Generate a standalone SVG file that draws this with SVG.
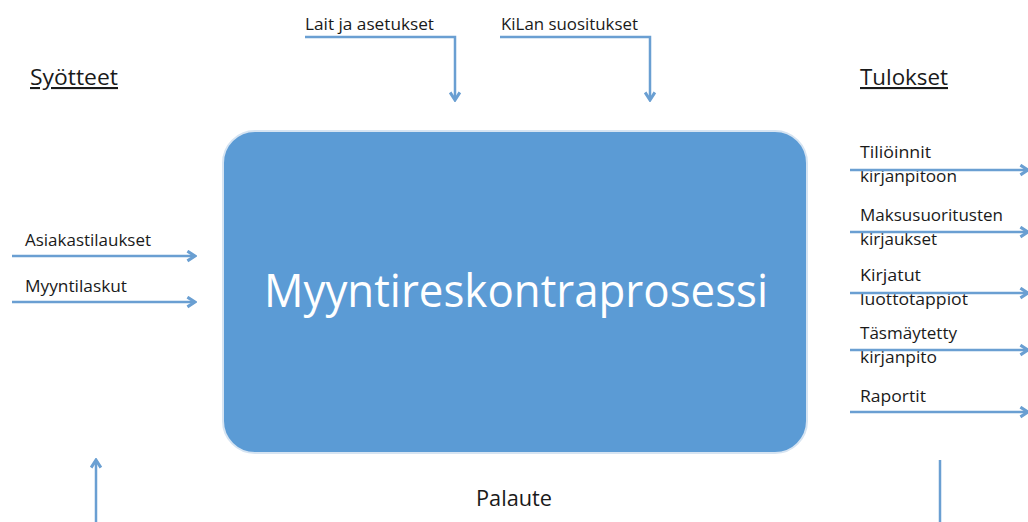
<svg xmlns="http://www.w3.org/2000/svg" width="1028" height="522" viewBox="0 0 1028 522">
  <style>
    .lbl { font-family: "Open Sans", "Liberation Sans", sans-serif; font-size: 16px; fill: #1a1a1a; }
    .out { font-size: 17px; }
    .head { font-family: "Open Sans", "Liberation Sans", sans-serif; font-size: 21px; fill: #1a1a1a; text-decoration: underline; }
    .title { font-family: "Open Sans", "Liberation Sans", sans-serif; font-size: 46px; fill: #ffffff; }
    .flow { fill: none; stroke: #6a9fd2; stroke-width: 2.5; }
  </style>
  <defs>
    <marker id="arrow" viewBox="0 0 12 12" refX="10" refY="6" markerWidth="13" markerHeight="13" markerUnits="userSpaceOnUse" orient="auto">
      <polyline points="3,1.5 10,6 3,10.5" fill="none" stroke="#6a9fd2" stroke-width="2.8"/>
    </marker>
  </defs>

  <rect width="1028" height="522" fill="#ffffff"/>

  <!-- central process -->
  <g id="process">
    <rect x="223" y="131" width="584" height="322" rx="32" ry="32" fill="#5b9bd5" stroke="#d6e4f2" stroke-width="2"/>
    <text class="title" x="264" y="307" textLength="504" lengthAdjust="spacingAndGlyphs">Myyntireskontraprosessi</text>
  </g>

  <!-- column headings -->
  <g id="heading-inputs">
    <text class="head" x="30" y="85" textLength="88" lengthAdjust="spacingAndGlyphs">Syötteet</text>
  </g>
  <g id="heading-outputs">
    <text class="head" x="860" y="85" textLength="88" lengthAdjust="spacingAndGlyphs">Tulokset</text>
  </g>

  <!-- controls from above -->
  <g id="control-laws">
    <text class="lbl" x="305" y="30" textLength="129" lengthAdjust="spacingAndGlyphs">Lait ja asetukset</text>
  </g>
  <g id="control-kila">
    <text class="lbl" x="501" y="30" textLength="137" lengthAdjust="spacingAndGlyphs">KiLan suositukset</text>
  </g>

  <!-- inputs -->
  <g id="input-orders">
    <text class="lbl" x="25" y="246" textLength="126" lengthAdjust="spacingAndGlyphs">Asiakastilaukset</text>
  </g>
  <g id="input-invoices">
    <text class="lbl" x="25" y="292" textLength="102" lengthAdjust="spacingAndGlyphs">Myyntilaskut</text>
  </g>

  <!-- outputs -->
  <g id="output-entries">
    <text class="lbl out" x="860" y="158" textLength="71" lengthAdjust="spacingAndGlyphs">Tiliöinnit</text>
    <text class="lbl out" x="860" y="182" textLength="97" lengthAdjust="spacingAndGlyphs">kirjanpitoon</text>
  </g>
  <g id="output-payments">
    <text class="lbl out" x="860" y="221" textLength="143" lengthAdjust="spacingAndGlyphs">Maksusuoritusten</text>
    <text class="lbl out" x="860" y="245" textLength="77" lengthAdjust="spacingAndGlyphs">kirjaukset</text>
  </g>
  <g id="output-creditloss">
    <text class="lbl out" x="860" y="281" textLength="61" lengthAdjust="spacingAndGlyphs">Kirjatut</text>
    <text class="lbl out" x="860" y="305" textLength="108" lengthAdjust="spacingAndGlyphs">luottotappiot</text>
  </g>
  <g id="output-reconciled">
    <text class="lbl out" x="860" y="339" textLength="97" lengthAdjust="spacingAndGlyphs">Täsmäytetty</text>
    <text class="lbl out" x="860" y="363" textLength="77" lengthAdjust="spacingAndGlyphs">kirjanpito</text>
  </g>
  <g id="output-reports">
    <text class="lbl out" x="860" y="402" textLength="66" lengthAdjust="spacingAndGlyphs">Raportit</text>
  </g>

  <!-- feedback -->
  <g id="feedback">
    <text class="lbl" x="476" y="506" style="font-size:21px" textLength="76" lengthAdjust="spacingAndGlyphs">Palaute</text>
  </g>

  <!-- connectors -->
  <g id="connectors">
    <polyline class="flow" points="305,37 455,37 455,100" marker-end="url(#arrow)"/>
    <polyline class="flow" points="500,37 650,37 650,100" marker-end="url(#arrow)"/>

    <line class="flow" x1="12" y1="256" x2="195" y2="256" marker-end="url(#arrow)"/>
    <line class="flow" x1="12" y1="302" x2="195" y2="302" marker-end="url(#arrow)"/>

    <line class="flow" x1="850" y1="170" x2="1028" y2="170" marker-end="url(#arrow)"/>
    <line class="flow" x1="850" y1="232" x2="1028" y2="232" marker-end="url(#arrow)"/>
    <line class="flow" x1="850" y1="293" x2="1028" y2="293" marker-end="url(#arrow)"/>
    <line class="flow" x1="850" y1="350" x2="1028" y2="350" marker-end="url(#arrow)"/>
    <line class="flow" x1="850" y1="412" x2="1028" y2="412" marker-end="url(#arrow)"/>

    <line class="flow" x1="96" y1="522" x2="96" y2="460" marker-end="url(#arrow)"/>
    <line class="flow" x1="940" y1="460" x2="940" y2="522"/>
  </g>
</svg>
